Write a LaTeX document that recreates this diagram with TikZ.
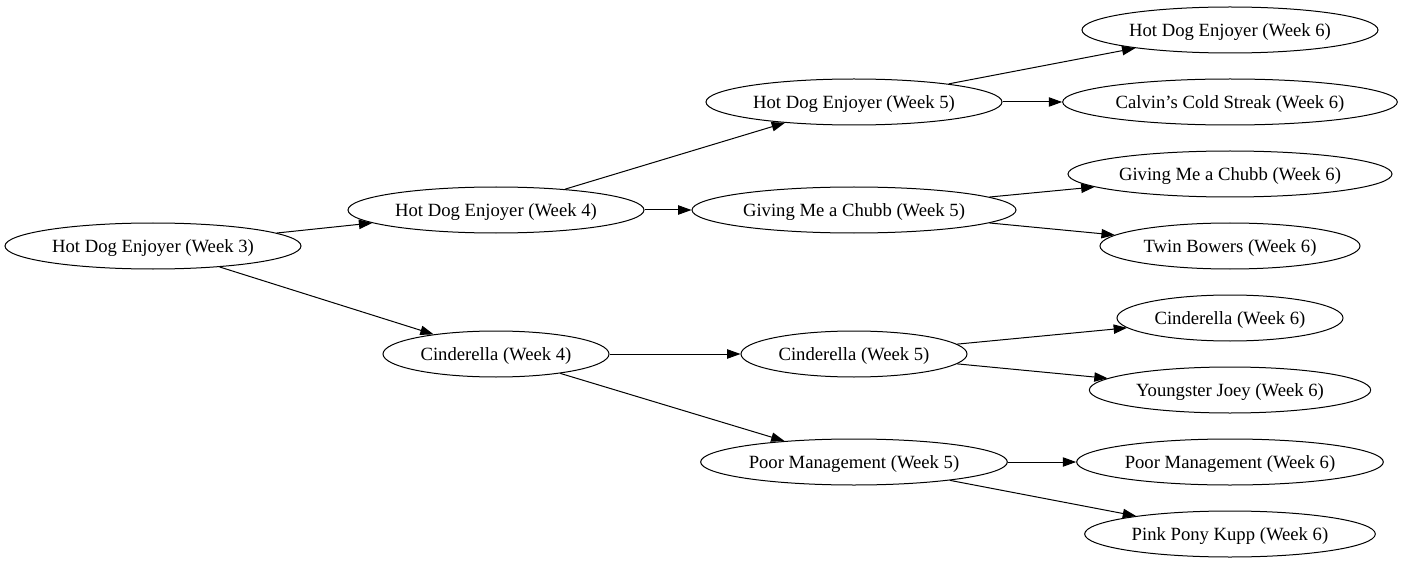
\documentclass[tikz,border=0pt]{standalone}
\usepackage{fontspec}
\setmainfont{Liberation Serif}
\usetikzlibrary{shapes.geometric,arrows.meta}

\tikzset{
  team/.style={draw, ellipse, line width=0.75pt, inner sep=0pt, minimum height=34.5pt, text height=11pt, text depth=0.7pt, font=\fontsize{14}{16}\selectfont},
  pick/.style={line width=0.75pt, -{Triangle[length=10pt,width=7pt]}}
}

\begin{document}
\begin{tikzpicture}[x=0.75pt,y=-0.75pt]

\useasboundingbox (0,0) rectangle (1403,563);

\node[team,minimum width=222pt] (W3_1) at (153,246) {Hot Dog Enjoyer (Week 3)};

\node[team,minimum width=222pt] (W4_1) at (496,210) {Hot Dog Enjoyer (Week 4)};
\node[team,minimum width=169.5pt] (W4_2) at (496,354) {Cinderella (Week 4)};
\draw[pick] (W3_1) -- (W4_1);
\draw[pick] (W3_1) -- (W4_2);

\node[team,minimum width=222pt] (W5_1) at (854,102) {Hot Dog Enjoyer (Week 5)};
\node[team,minimum width=243pt] (W5_2) at (854,210) {Giving Me a Chubb (Week 5)};
\node[team,minimum width=169.5pt] (W5_3) at (854,354) {Cinderella (Week 5)};
\node[team,minimum width=230pt] (W5_4) at (854,462) {Poor Management (Week 5)};
\draw[pick] (W4_1) -- (W5_1);
\draw[pick] (W4_1) -- (W5_2);
\draw[pick] (W4_2) -- (W5_3);
\draw[pick] (W4_2) -- (W5_4);

\node[team,minimum width=222pt] (W6_1) at (1230,30) {Hot Dog Enjoyer (Week 6)};
\node[team,minimum width=251pt] (W6_2) at (1230,102) {Calvin’s Cold Streak (Week 6)};
\node[team,minimum width=243pt] (W6_3) at (1230,174) {Giving Me a Chubb (Week 6)};
\node[team,minimum width=195pt] (W6_4) at (1230,246) {Twin Bowers (Week 6)};
\node[team,minimum width=169.5pt] (W6_5) at (1230,318) {Cinderella (Week 6)};
\node[team,minimum width=211pt] (W6_6) at (1230,390) {Youngster Joey (Week 6)};
\node[team,minimum width=230pt] (W6_7) at (1230,462) {Poor Management (Week 6)};
\node[team,minimum width=218pt] (W6_8) at (1230,534) {Pink Pony Kupp (Week 6)};
\draw[pick] (W5_1) -- (W6_1);
\draw[pick] (W5_1) -- (W6_2);
\draw[pick] (W5_2) -- (W6_3);
\draw[pick] (W5_2) -- (W6_4);
\draw[pick] (W5_3) -- (W6_5);
\draw[pick] (W5_3) -- (W6_6);
\draw[pick] (W5_4) -- (W6_7);
\draw[pick] (W5_4) -- (W6_8);

\end{tikzpicture}
\end{document}
